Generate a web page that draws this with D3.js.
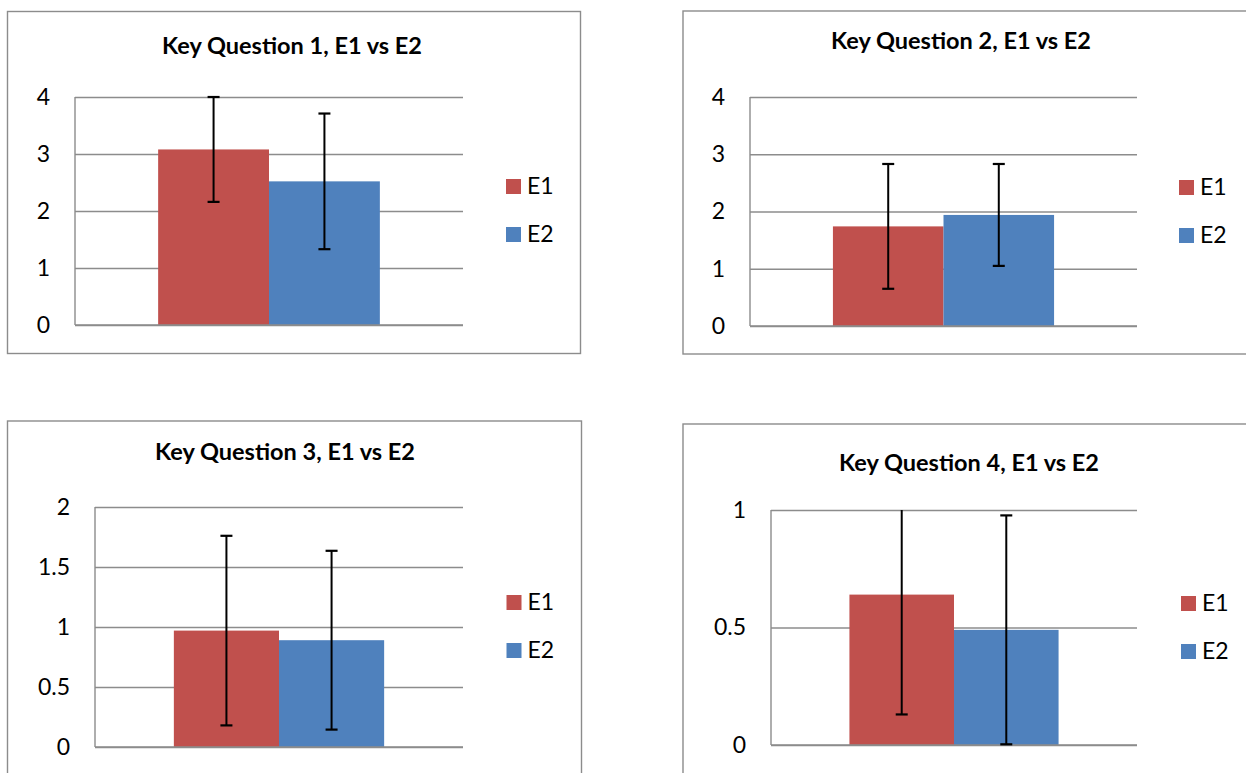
<!DOCTYPE html>
<html>
<head>
<meta charset="utf-8">
<script src="https://cdn.jsdelivr.net/npm/d3@7"></script>
<style>
  html, body { margin: 0; padding: 0; background: #ffffff; }
  svg { display: block; }
  text { font-family: Lato, "Open Sans", "DejaVu Sans", sans-serif; }
</style>
</head>
<body>
<svg id="chart" width="1246" height="773"></svg>
<script>
// ---- Data ----
const titles = [
  "Key Question 1, E1 vs E2",
  "Key Question 2, E1 vs E2",
  "Key Question 3, E1 vs E2",
  "Key Question 4, E1 vs E2"
];
const categories = ["Key Question"];
const seriesNames = ["E1", "E2"];
const e1Means  = [3.08, 1.74, 0.97, 0.64];
const e2Means  = [2.52, 1.94, 0.89, 0.49];
const e1Errors = [0.92, 1.09, 0.79, 0.51];
const e2Errors = [1.19, 0.89, 0.745, 0.487];
const yMaxes   = [4, 4, 2, 1];
const yTickLabels = [
  [0, 1, 2, 3, 4],
  [0, 1, 2, 3, 4],
  [0, 0.5, 1, 1.5, 2],
  [0, 0.5, 1]
];

// ---- Layout (positions only) ----
const panels = [
  { frame: [7.5, 11.5, 573, 342], plot: [75, 463, 97, 325], titleX: 292, titleY: 54, legX: 506, legY: 179 },
  { frame: [683, 11, 580, 343],   plot: [750, 1137, 97, 326], titleX: 961, titleY: 49, legX: 1179, legY: 180 },
  { frame: [7.5, 421, 574, 400],  plot: [95, 463, 507, 747], titleX: 285, titleY: 460, legX: 506.5, legY: 595 },
  { frame: [683, 424, 580, 400],  plot: [771, 1137, 510, 745], titleX: 969, titleY: 471, legX: 1181, legY: 596 }
];
const colors = { E1: "#C0504D", E2: "#4F81BD" };
const gridColor = "#8c8c8c";
const frameColor = "#8c8c8c";
const titleSize = 23.5;
const labelSize = 23;

const svg = d3.select("#chart");

panels.forEach((p, i) => {
  const g = svg.append("g");
  const [fx, fy, fw, fh] = p.frame;
  g.append("rect")
    .attr("x", fx).attr("y", fy).attr("width", fw).attr("height", fh)
    .attr("fill", "#fff").attr("stroke", frameColor).attr("stroke-width", 1.4);

  g.append("text")
    .attr("x", p.titleX).attr("y", p.titleY)
    .attr("text-anchor", "middle")
    .attr("font-weight", "bold")
    .attr("font-size", titleSize)
    .attr("fill", "#000")
    .text(titles[i]);

  const [l, r, t, b] = p.plot;
  const y = d3.scaleLinear().domain([0, yMaxes[i]]).range([b, t]);
  const x0 = d3.scaleBand().domain(categories).range([l, r]).paddingInner(0).paddingOuter(0.375);
  const x1 = d3.scaleBand().domain(seriesNames).range([0, x0.bandwidth()]).padding(0);

  // gridlines
  const yAxis = d3.axisLeft(y)
    .tickValues(yTickLabels[i])
    .tickSize(-(r - l))
    .tickPadding(25)
    .tickFormat(d => String(d));
  const ag = g.append("g").attr("transform", `translate(${l},0)`).call(yAxis);
  ag.select(".domain").remove();
  ag.selectAll(".tick line").attr("stroke", gridColor).attr("stroke-width", 1.4);
  ag.selectAll(".tick text")
    .attr("fill", "#000")
    .attr("font-size", labelSize)
    .attr("font-family", "Lato, 'Open Sans', sans-serif");
  // vertical axis line
  g.append("line")
    .attr("x1", l).attr("x2", l).attr("y1", t).attr("y2", b)
    .attr("stroke", gridColor).attr("stroke-width", 1.4);

  const rows = [
    { name: "E1", v: e1Means[i], e: e1Errors[i] },
    { name: "E2", v: e2Means[i], e: e2Errors[i] }
  ];
  const cat = categories[0];

  g.selectAll(".bar").data(rows).enter().append("rect")
    .attr("x", d => x0(cat) + x1(d.name))
    .attr("width", x1.bandwidth())
    .attr("y", d => y(d.v))
    .attr("height", d => y(0) - y(d.v))
    .attr("fill", d => colors[d.name]);

  // bottom axis line over bars
  g.append("line")
    .attr("x1", l).attr("x2", r).attr("y1", b).attr("y2", b)
    .attr("stroke", gridColor).attr("stroke-width", 1.4);

  // error bars (clipped to axis range like Excel)
  const capW = 12;
  const yMax = yMaxes[i];
  rows.forEach(d => {
    const cx = x0(cat) + x1(d.name) + x1.bandwidth() / 2;
    const hiV = d.v + d.e, loV = d.v - d.e;
    const hi = Math.min(hiV, yMax), lo = Math.max(loV, 0);
    g.append("line")
      .attr("x1", cx).attr("x2", cx).attr("y1", y(hi)).attr("y2", y(lo))
      .attr("stroke", "#000").attr("stroke-width", 2);
    if (hiV <= yMax + 0.005) {
      g.append("line")
        .attr("x1", cx - capW / 2).attr("x2", cx + capW / 2)
        .attr("y1", y(hi)).attr("y2", y(hi))
        .attr("stroke", "#000").attr("stroke-width", 2.2);
    }
    if (loV >= -0.005) {
      g.append("line")
        .attr("x1", cx - capW / 2).attr("x2", cx + capW / 2)
        .attr("y1", y(lo)).attr("y2", y(lo))
        .attr("stroke", "#000").attr("stroke-width", 2.2);
    }
  });

  // legend
  seriesNames.forEach((s, k) => {
    const ly = p.legY + k * 48;
    g.append("rect")
      .attr("x", p.legX).attr("y", ly).attr("width", 15).attr("height", 15)
      .attr("fill", colors[s]);
    g.append("text")
      .attr("x", p.legX + 21).attr("y", ly + 15)
      .attr("font-size", labelSize).attr("fill", "#000")
      .text(s);
  });
});
</script>
</body>
</html>
